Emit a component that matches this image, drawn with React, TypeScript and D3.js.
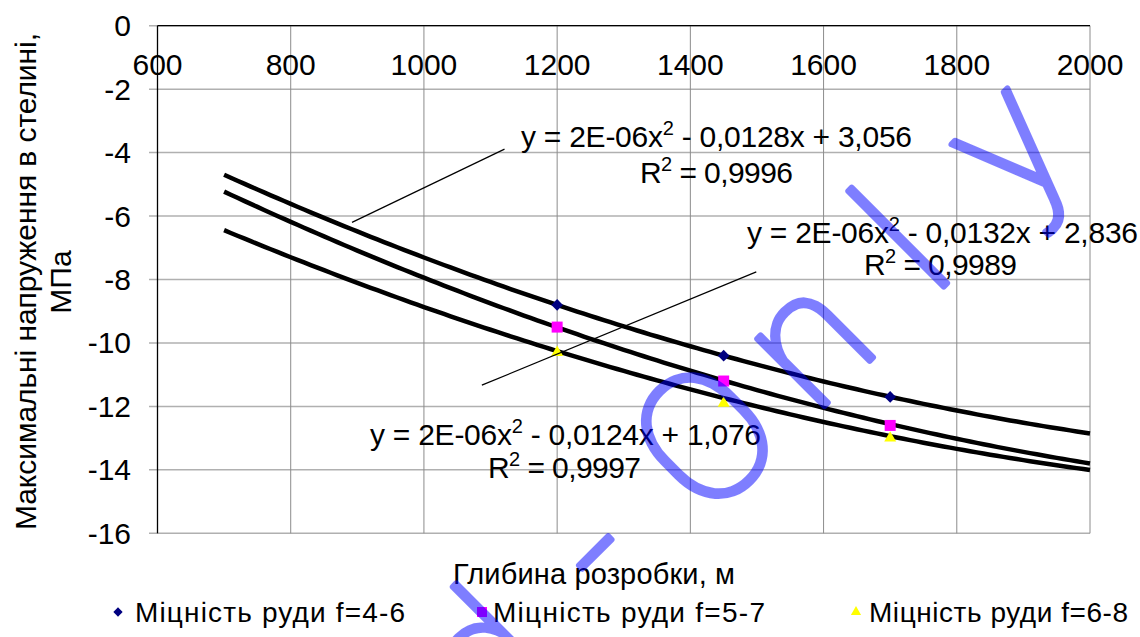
import React from "react";
import * as d3 from "d3";

const width = 1140;
const height = 637;
const font = "'Liberation Sans', Arial, sans-serif";

// axis ticks
const xTicks = [600, 800, 1000, 1200, 1400, 1600, 1800, 2000];
const yTicks = [0, -2, -4, -6, -8, -10, -12, -14, -16];

// measured points
const depths = [1200, 1450, 1700];
const stressF46 = [-8.8, -10.4, -11.7];
const stressF57 = [-9.5, -11.2, -12.6];
const stressF68 = [-10.3, -11.9, -13.0];

// trendline
const trendDepths = [700, 1200, 1450, 1700, 2000];
const trendF46 = [-4.7, -8.8, -10.4, -11.7, -12.85];
const trendF57 = [-5.23, -9.5, -11.2, -12.55, -13.8];
const trendF68 = [-6.44, -10.27, -11.75, -12.9, -14.02];

const seriesNames = [
  "Міцність руди f=4-6",
  "Міцність руди f=5-7",
  "Міцність руди f=6-8",
];

const xScale = d3.scaleLinear().domain([600, 2000]).range([157.5, 1090]);
const yScale = d3.scaleLinear().domain([0, -16]).range([25.7, 533.3]);

// least squares quadratic fit
const polyFit = (xs: number[], ys: number[]) => {
  const s = [0, 0, 0, 0, 0];
  const t = [0, 0, 0];
  xs.forEach((x0, i) => {
    const x = x0 / 1000;
    for (let k = 0; k < 5; k++) s[k] += Math.pow(x, k);
    for (let k = 0; k < 3; k++) t[k] += ys[i] * Math.pow(x, k);
  });
  const m = [
    [s[0], s[1], s[2], t[0]],
    [s[1], s[2], s[3], t[1]],
    [s[2], s[3], s[4], t[2]],
  ];
  for (let i = 0; i < 3; i++) {
    for (let j = i + 1; j < 3; j++) {
      const f = m[j][i] / m[i][i];
      for (let k = i; k < 4; k++) m[j][k] -= f * m[i][k];
    }
  }
  const c = [0, 0, 0];
  for (let i = 2; i >= 0; i--) {
    let v = m[i][3];
    for (let k = i + 1; k < 3; k++) v -= m[i][k] * c[k];
    c[i] = v / m[i][i];
  }
  return (x0: number) => {
    const x = x0 / 1000;
    return c[0] + c[1] * x + c[2] * x * x;
  };
};

const trendLine = d3
  .line<number[]>()
  .x((d) => xScale(d[0]))
  .y((d) => yScale(d[1]));

const trendPath = (ys: number[]) => {
  const f = polyFit(trendDepths, ys);
  const samples = d3.range(700, 2000.01, 10).map((x) => [x, f(x)]);
  return trendLine(samples) || "";
};

const markers = [
  { ys: stressF46, path: d3.symbol(d3.symbolDiamond2, 85)() || "", legend: d3.symbol(d3.symbolDiamond2, 55)() || "", fill: "#000080" },
  { ys: stressF57, path: d3.symbol(d3.symbolSquare, 121)() || "", legend: d3.symbol(d3.symbolSquare, 100)() || "", fill: "#FF00FF" },
  { ys: stressF68, path: d3.symbol(d3.symbolTriangle, 62)() || "", legend: d3.symbol(d3.symbolTriangle, 45)() || "", fill: "#FFFF00" },
];

const Equation = ({ x, y1, y2, b, c, r2, w2 }: { x: number; y1: number; y2: number; b: string; c: string; r2: string; w2: number }) => (
  <g fontFamily={font} fontSize={30} fill="#000">
    <text x={x} y={y1} textLength={391} lengthAdjust="spacing">
      y = 2E-06x<tspan dy={-12} fontSize={20}>2</tspan>
      <tspan dy={12}>{` - ${b}x + ${c}`}</tspan>
    </text>
    <text x={x + w2} y={y2} textLength={153} lengthAdjust="spacing">
      R<tspan dy={-12} fontSize={20}>2</tspan>
      <tspan dy={12}>{` = ${r2}`}</tspan>
    </text>
  </g>
);

export default function App() {
  return (
    <svg
      width={width}
      height={height}
      style={{ position: "absolute", left: 0, top: 0, background: "#fff" }}
    >
      <rect width={width} height={height} fill="#fff" />
      {yTicks.map((t) => (
        <line key={"h" + t} x1={149} x2={xScale(2000)} y1={yScale(t)} y2={yScale(t)} stroke="#b0b0b0" strokeWidth={1.5} />
      ))}
      {xTicks.map((t) => (
        <line key={"v" + t} x1={xScale(t)} x2={xScale(t)} y1={yScale(0)} y2={yScale(-16)} stroke="#8c8c8c" strokeWidth={1} />
      ))}
      <line x1={xScale(600)} x2={xScale(600)} y1={yScale(0)} y2={yScale(-16)} stroke="#000" strokeWidth={1.3} />
      <line x1={xScale(600)} x2={xScale(2000)} y1={yScale(0)} y2={yScale(0)} stroke="#000" strokeWidth={1.3} />

      <g fontFamily={font} fontSize={30} fill="#000">
        {yTicks.map((t) => (
          <text key={"yl" + t} x={131} y={yScale(t)} dy="0.35em" textAnchor="end">
            {t}
          </text>
        ))}
        {xTicks.map((t) => (
          <text key={"xl" + t} x={xScale(t)} y={75} textAnchor="middle">
            {t}
          </text>
        ))}
      </g>

      {[trendF46, trendF57, trendF68].map((ys, i) => (
        <path key={"tr" + i} d={trendPath(ys)} fill="none" stroke="#000" strokeWidth={4.5} />
      ))}

      {markers.map((m, i) =>
        depths.map((dep, j) => (
          <path key={"p" + i + j} d={m.path} transform={`translate(${xScale(dep)},${yScale(m.ys[j])})`} fill={m.fill} />
        ))
      )}

      <Equation x={521} y1={147} y2={183} b="0,0128" c="3,056" r2="0,9996" w2={119} />
      <Equation x={747} y1={243} y2={275} b="0,0132" c="2,836" r2="0,9989" w2={117} />
      <Equation x={370} y1={445} y2={478} b="0,0124" c="1,076" r2="0,9997" w2={118} />
      <line x1={xScale(1121)} y1={yScale(-3.89)} x2={xScale(892)} y2={yScale(-6.2)} stroke="#000" strokeWidth={1.2} />
      <line x1={xScale(1499)} y1={yScale(-7.76)} x2={xScale(1087)} y2={yScale(-11.33)} stroke="#000" strokeWidth={1.2} />

      <text x={453} y={584} fontFamily={font} fontSize={29} textLength={282} lengthAdjust="spacing">
        Глибина розробки, м
      </text>
      <g fontFamily={font} fontSize={30} textAnchor="middle">
        <text transform="translate(36,281.5) rotate(-90)" textLength={497} lengthAdjust="spacing">
          Максимальні напруження в стелині,
        </text>
        <text transform="translate(71,282) rotate(-90)">МПа</text>
      </g>

      <g fontFamily={font} fontSize={28}>
        {markers.map((m, i) => {
          const lx = [118, 482, 856][i];
          const tx = [135, 493, 869][i];
          const tw = [270, 272, 259][i];
          return (
            <g key={"lg" + i}>
              <path d={m.legend} transform={`translate(${lx},612)`} fill={m.fill} />
              <text x={tx} y={622} textLength={tw} lengthAdjust="spacing">
                {seriesNames[i]}
              </text>
            </g>
          );
        })}
      </g>

      {/* watermark */}
      <g opacity={0.5} pointerEvents="none">
        <text
          transform="rotate(-45)"
          y={870}
          fontFamily="Roboto, Inter, sans-serif"
          fontWeight={100}
          fontSize={180}
          fill="#0000ff"
          stroke="#0000ff"
          strokeWidth={6}
          strokeLinejoin="round"
          textAnchor="middle"
        >
          <tspan x={-75} textAnchor="end">Read</tspan>
          <tspan x={31}>-</tspan>
          <tspan x={190}>O</tspan>
          <tspan x={330}>n</tspan>
          <tspan x={467}>l</tspan>
          <tspan x={610}>y</tspan>
        </text>
      </g>
    </svg>
  );
}
